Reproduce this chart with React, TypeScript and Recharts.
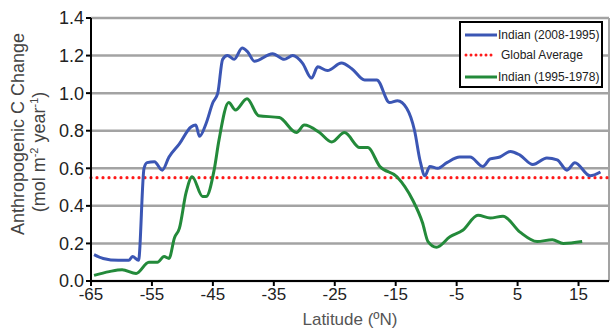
import React from "react";
import {
  LineChart,
  Line,
  XAxis,
  YAxis,
  CartesianGrid,
  ReferenceLine,
  Legend,
  Label,
} from "recharts";

// Indian (2008-1995)
const recentLat = [
  -64.5, -63, -60.5, -58.8, -58.2, -57.2, -56.3, -55.8, -54.6, -53.3, -52.2,
  -50.5, -48.6, -47.8, -47.2, -46.1, -45, -44.2, -43.4, -42.6, -41.5, -40.2,
  -39.3, -38.2, -35.2, -33.3, -31.9, -30.3, -28.8, -27.8, -26.2, -23.9, -22.2,
  -20.1, -18.1, -16, -14.7, -13.2, -11.9, -11, -10.2, -9.4, -8.1, -6.6, -4.5,
  -2.8, -0.7, 0.5, 2.1, 3.8, 5.4, 7.5, 9.8, 11.5, 13.1, 14.4, 16.9, 18.6,
];
const recentChange = [
  0.14, 0.12, 0.11, 0.11, 0.13, 0.11, 0.6, 0.63, 0.635, 0.59, 0.66, 0.73, 0.82,
  0.83, 0.77, 0.84, 0.95, 1.0, 1.18, 1.2, 1.18, 1.24, 1.22, 1.17, 1.21, 1.18,
  1.2, 1.16, 1.08, 1.14, 1.12, 1.16, 1.13, 1.07, 1.07, 0.95, 0.96, 0.92, 0.8,
  0.64, 0.56, 0.61, 0.6, 0.63, 0.66, 0.66, 0.61, 0.65, 0.66, 0.69, 0.67, 0.62,
  0.655, 0.645, 0.59, 0.63, 0.56, 0.58,
];

// Indian (1995-1978)
const earlyLat = [
  -64.5, -62, -59.9, -57.6, -55.5, -54.1, -53, -52.2, -51.3, -50.5, -49.4,
  -48.4, -46.7, -46.1, -44.8, -44, -42.4, -41.3, -39.4, -37.5, -34.1, -31.3,
  -30, -27.5, -25.5, -23.4, -20.9, -19.6, -17.6, -14.8, -12.2, -10.6, -9.7,
  -8.3, -6.1, -4, -1.5, 0.5, 2.6, 5.4, 8.2, 10.7, 12.5, 15.6,
];
const earlyChange = [
  0.03, 0.05, 0.06, 0.04, 0.1, 0.1, 0.13, 0.12, 0.23, 0.28, 0.47, 0.555, 0.45,
  0.45, 0.59, 0.75, 0.95, 0.91, 0.97, 0.88, 0.87, 0.79, 0.83, 0.79, 0.74, 0.79,
  0.71, 0.71, 0.61, 0.555, 0.43, 0.31, 0.21, 0.18, 0.235, 0.27, 0.35, 0.335,
  0.345, 0.26, 0.21, 0.22, 0.2, 0.21,
];

const globalAverage = 0.55;
const xTicks = [-65, -55, -45, -35, -25, -15, -5, 5, 15];
const yTicks = [0, 0.2, 0.4, 0.6, 0.8, 1.0, 1.2, 1.4];

const recentData = recentLat.map((lat, i) => ({ lat, value: recentChange[i] }));
const earlyData = earlyLat.map((lat, i) => ({ lat, value: earlyChange[i] }));

const BLUE = "#3b56b4";
const GREEN = "#238a3a";
const RED = "#ff1a1a";
const FONT = "'Liberation Sans', Arial, sans-serif";

const LegendBox = () => (
  <svg width={144} height={67} style={{ display: "block" }}>
    <rect x={1} y={1} width={142} height={65} fill="#fff" stroke="#000" strokeWidth={2} />
    <line x1={6} y1={14} x2={38} y2={14} stroke={BLUE} strokeWidth={3} />
    <text x={39} y={18} fontSize={12} fontFamily={FONT} fill="#222">
      Indian (2008-1995)
    </text>
    <line
      x1={7}
      y1={34}
      x2={36}
      y2={34}
      stroke={RED}
      strokeWidth={3}
      strokeDasharray="0 5"
      strokeLinecap="round"
    />
    <text x={42} y={38} fontSize={12} fontFamily={FONT} fill="#222">
      Global Average
    </text>
    <line x1={6} y1={56} x2={38} y2={56} stroke={GREEN} strokeWidth={3} />
    <text x={39} y={60} fontSize={12} fontFamily={FONT} fill="#222">
      Indian (1995-1978)
    </text>
  </svg>
);

const YTitle = () => (
  <g fontFamily={FONT} fill="#444" fontSize={18}>
    <text x={24} y={134} textAnchor="middle" transform="rotate(-90 24 134)">
      Anthropogenic C Change
    </text>
    <text x={45} y={152} textAnchor="middle" transform="rotate(-90 45 152)">
      (mol m
      <tspan fontSize={11} dy={-7}>-2</tspan>
      <tspan dy={7}> year</tspan>
      <tspan fontSize={11} dy={-7}>-1</tspan>
      <tspan dy={7}>)</tspan>
    </text>
  </g>
);

export default function App() {
  return (
    <div style={{ position: "absolute", left: 0, top: 0, width: 612, height: 333, background: "#fff" }}>
      <LineChart
        width={612}
        height={333}
        margin={{ top: 18, right: 3, bottom: 0, left: 46 }}
      >
        <CartesianGrid horizontal vertical={false} stroke="#a3a3a3" strokeWidth={2.5} />
        <XAxis
          type="number"
          dataKey="lat"
          domain={[-65, 20]}
          ticks={xTicks}
          allowDataOverflow
          height={52}
          stroke="#000"
          strokeWidth={2}
          tickSize={5}
          tick={{ fontSize: 17, fill: "#222", fontFamily: FONT }}
        >
          <Label
            value="Latitude (ºN)"
            position="insideBottom"
            offset={8}
            style={{ fontSize: 17, fill: "#555", fontFamily: FONT }}
          />
        </XAxis>
        <YAxis
          type="number"
          domain={[0, 1.4]}
          ticks={yTicks}
          width={45}
          stroke="#000"
          strokeWidth={2}
          tickSize={5}
          tickFormatter={(v: number) => v.toFixed(1)}
          tick={{ fontSize: 18, fill: "#222", fontFamily: FONT }}
        />
        <ReferenceLine x={20} stroke="#a3a3a3" strokeWidth={2} />
        <ReferenceLine
          y={globalAverage}
          stroke={RED}
          strokeWidth={3.2}
          strokeDasharray="0 6"
          strokeLinecap="round"
        />
        <Line
          data={recentData}
          dataKey="value"
          type="monotone"
          stroke={BLUE}
          strokeWidth={3}
          dot={false}
          isAnimationActive={false}
          name="Indian (2008-1995)"
        />
        <Line
          data={earlyData}
          dataKey="value"
          type="monotone"
          stroke={GREEN}
          strokeWidth={3}
          dot={false}
          isAnimationActive={false}
          name="Indian (1995-1978)"
        />
        <Legend
          layout="horizontal"
          verticalAlign="middle"
          align="center"
          wrapperStyle={{ position: "absolute", left: 459, top: 21, width: 144, height: 67 }}
          content={() => <LegendBox />}
        />
        <YTitle />
      </LineChart>
    </div>
  );
}
